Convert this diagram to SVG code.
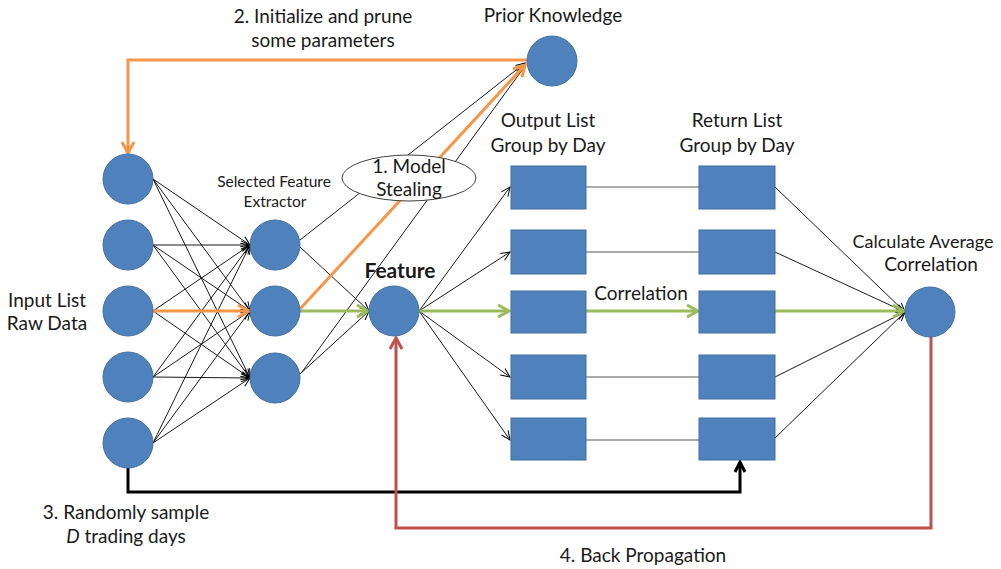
<svg xmlns="http://www.w3.org/2000/svg" width="1001" height="569" viewBox="0 0 1001 569">
<style>
.t{font-family:Lato,"Liberation Sans",sans-serif;font-size:19px;fill:#1a1a1a;text-anchor:middle}
.s{font-size:15.5px}
.b{font-weight:bold;font-size:21px}
.node{fill:#4F81BD;stroke:#41709F;stroke-width:1}
.thin{stroke:#000;stroke-width:0.9;fill:none}
.gray{stroke:#595959;stroke-width:1.2;fill:none}
.or{stroke:#F79646;stroke-width:3;fill:none}
.gr{stroke:#9BBB59;stroke-width:3;fill:none}
.rd{stroke:#C0504D;stroke-width:3;fill:none}
.bk{stroke:#000;stroke-width:3;fill:none}
</style>
<defs>
<marker id="ab" markerUnits="userSpaceOnUse" markerWidth="10" markerHeight="10" refX="9" refY="4" orient="auto" overflow="visible"><path d="M0,0 L9,4 L0,8" fill="none" stroke="#000" stroke-width="1"/></marker>
<marker id="ao" markerUnits="userSpaceOnUse" markerWidth="14" markerHeight="14" refX="11" refY="6" orient="auto" overflow="visible"><path d="M0,0 L11,6 L0,12" fill="none" stroke="#F79646" stroke-width="3"/></marker>
<marker id="ag" markerUnits="userSpaceOnUse" markerWidth="14" markerHeight="14" refX="11" refY="6" orient="auto" overflow="visible"><path d="M0,0 L11,6 L0,12" fill="none" stroke="#9BBB59" stroke-width="3"/></marker>
<marker id="ar" markerUnits="userSpaceOnUse" markerWidth="14" markerHeight="14" refX="11" refY="6" orient="auto" overflow="visible"><path d="M0,0 L11,6 L0,12" fill="none" stroke="#C0504D" stroke-width="3"/></marker>
<marker id="ak" markerUnits="userSpaceOnUse" markerWidth="14" markerHeight="14" refX="10" refY="5" orient="auto" overflow="visible"><path d="M0,0 L10,5 L0,10" fill="none" stroke="#000" stroke-width="3"/></marker>
</defs>

<g id="connectors">
<g class="thin" marker-end="url(#ab)">
<line x1="153" y1="179" x2="250" y2="245"/><line x1="153" y1="179" x2="250" y2="311"/><line x1="153" y1="179" x2="250" y2="378"/>
<line x1="153" y1="245" x2="250" y2="245"/><line x1="153" y1="245" x2="250" y2="311"/><line x1="153" y1="245" x2="250" y2="378"/>
<line x1="153" y1="311" x2="250" y2="245"/><line x1="153" y1="311" x2="250" y2="378"/>
<line x1="153" y1="377" x2="250" y2="245"/><line x1="153" y1="377" x2="250" y2="311"/><line x1="153" y1="377" x2="250" y2="378"/>
<line x1="153" y1="443" x2="250" y2="245"/><line x1="153" y1="443" x2="250" y2="311"/><line x1="153" y1="443" x2="250" y2="378"/>
<line x1="300" y1="247" x2="369" y2="311"/><line x1="300" y1="374" x2="369" y2="311"/>
<line x1="300" y1="240" x2="525" y2="63"/><line x1="302" y1="372" x2="525" y2="66"/>
<line x1="419" y1="311" x2="510" y2="187"/><line x1="419" y1="311" x2="510" y2="252"/><line x1="419" y1="311" x2="510" y2="377"/><line x1="419" y1="311" x2="510" y2="440"/>
<line x1="775" y1="187" x2="905" y2="312"/><line x1="775" y1="252" x2="905" y2="312"/><line x1="775" y1="377" x2="905" y2="312"/><line x1="775" y1="438" x2="905" y2="312"/>
</g>
<g class="gray">
<line x1="586" y1="187" x2="699" y2="187"/><line x1="586" y1="252" x2="699" y2="252"/><line x1="586" y1="377" x2="699" y2="377"/><line x1="586" y1="440" x2="699" y2="440"/>
</g>
<path class="or" d="M527 60 H128 V153" marker-end="url(#ao)"/>
<line class="or" x1="153" y1="311" x2="249" y2="311" marker-end="url(#ao)"/>
<line class="or" x1="300" y1="309" x2="525" y2="65" marker-end="url(#ao)"/>
<g class="gr" marker-end="url(#ag)">
<line x1="300" y1="311" x2="368" y2="311"/>
<line x1="419" y1="311" x2="509" y2="311"/>
<line x1="586" y1="311" x2="698" y2="311"/>
<line x1="775" y1="311" x2="904" y2="311"/>
</g>
<path class="bk" d="M128 468 V492 H740 V462" marker-end="url(#ak)"/>
<path class="rd" d="M931 337 V528 H396 V338" marker-end="url(#ar)"/>
</g>

<g id="model-stealing">
<ellipse cx="409" cy="178" rx="67" ry="23" fill="#fff" stroke="#404040" stroke-width="1"/>
<text class="t" x="409" y="173">1. Model</text>
<text class="t" x="409" y="196">Stealing</text>
</g>

<g id="input-nodes">
<circle class="node" cx="128" cy="179" r="25"/>
<circle class="node" cx="128" cy="245" r="25"/>
<circle class="node" cx="128" cy="311" r="25"/>
<circle class="node" cx="128" cy="377" r="25"/>
<circle class="node" cx="128" cy="443" r="25"/>
</g>
<g id="hidden-nodes">
<circle class="node" cx="275" cy="245" r="25"/>
<circle class="node" cx="275" cy="311" r="25"/>
<circle class="node" cx="275" cy="378" r="25"/>
</g>
<g id="feature"><circle class="node" cx="394" cy="311" r="25"/></g>
<g id="prior"><circle class="node" cx="552" cy="61" r="25"/></g>
<g id="avg"><circle class="node" cx="930" cy="312" r="25"/></g>
<g id="output-boxes">
<rect class="node" x="511" y="166" width="75" height="43"/>
<rect class="node" x="511" y="230" width="75" height="44"/>
<rect class="node" x="511" y="291" width="75" height="42"/>
<rect class="node" x="511" y="355" width="75" height="44"/>
<rect class="node" x="511" y="418" width="75" height="42"/>
</g>
<g id="return-boxes">
<rect class="node" x="699" y="166" width="76" height="43"/>
<rect class="node" x="699" y="230" width="76" height="44"/>
<rect class="node" x="699" y="291" width="76" height="42"/>
<rect class="node" x="699" y="355" width="76" height="44"/>
<rect class="node" x="699" y="418" width="76" height="42"/>
</g>

<g id="labels">
<text class="t" x="323" y="23">2. Initialize and prune</text>
<text class="t" x="323" y="47">some parameters</text>
<text class="t" x="553" y="22">Prior Knowledge</text>
<text class="t" x="548" y="127">Output List</text>
<text class="t" x="548" y="152">Group by Day</text>
<text class="t" x="737" y="127">Return List</text>
<text class="t" x="737" y="152">Group by Day</text>
<text class="t" x="923" y="248" style="font-size:18px">Calculate Average</text>
<text class="t" x="931" y="271">Correlation</text>
<text class="t" x="47" y="307">Input List</text>
<text class="t" x="47" y="330">Raw Data</text>
<text class="t s" x="274" y="187">Selected Feature</text>
<text class="t s" x="275" y="207">Extractor</text>
<text class="t b" x="400" y="278">Feature</text>
<text class="t" x="641" y="300">Correlation</text>
<text class="t" x="126" y="519">3. Randomly sample</text>
<text class="t" x="126" y="543"><tspan font-style="italic">D</tspan> trading days</text>
<text class="t" x="643" y="562">4. Back Propagation</text>
</g>
</svg>
